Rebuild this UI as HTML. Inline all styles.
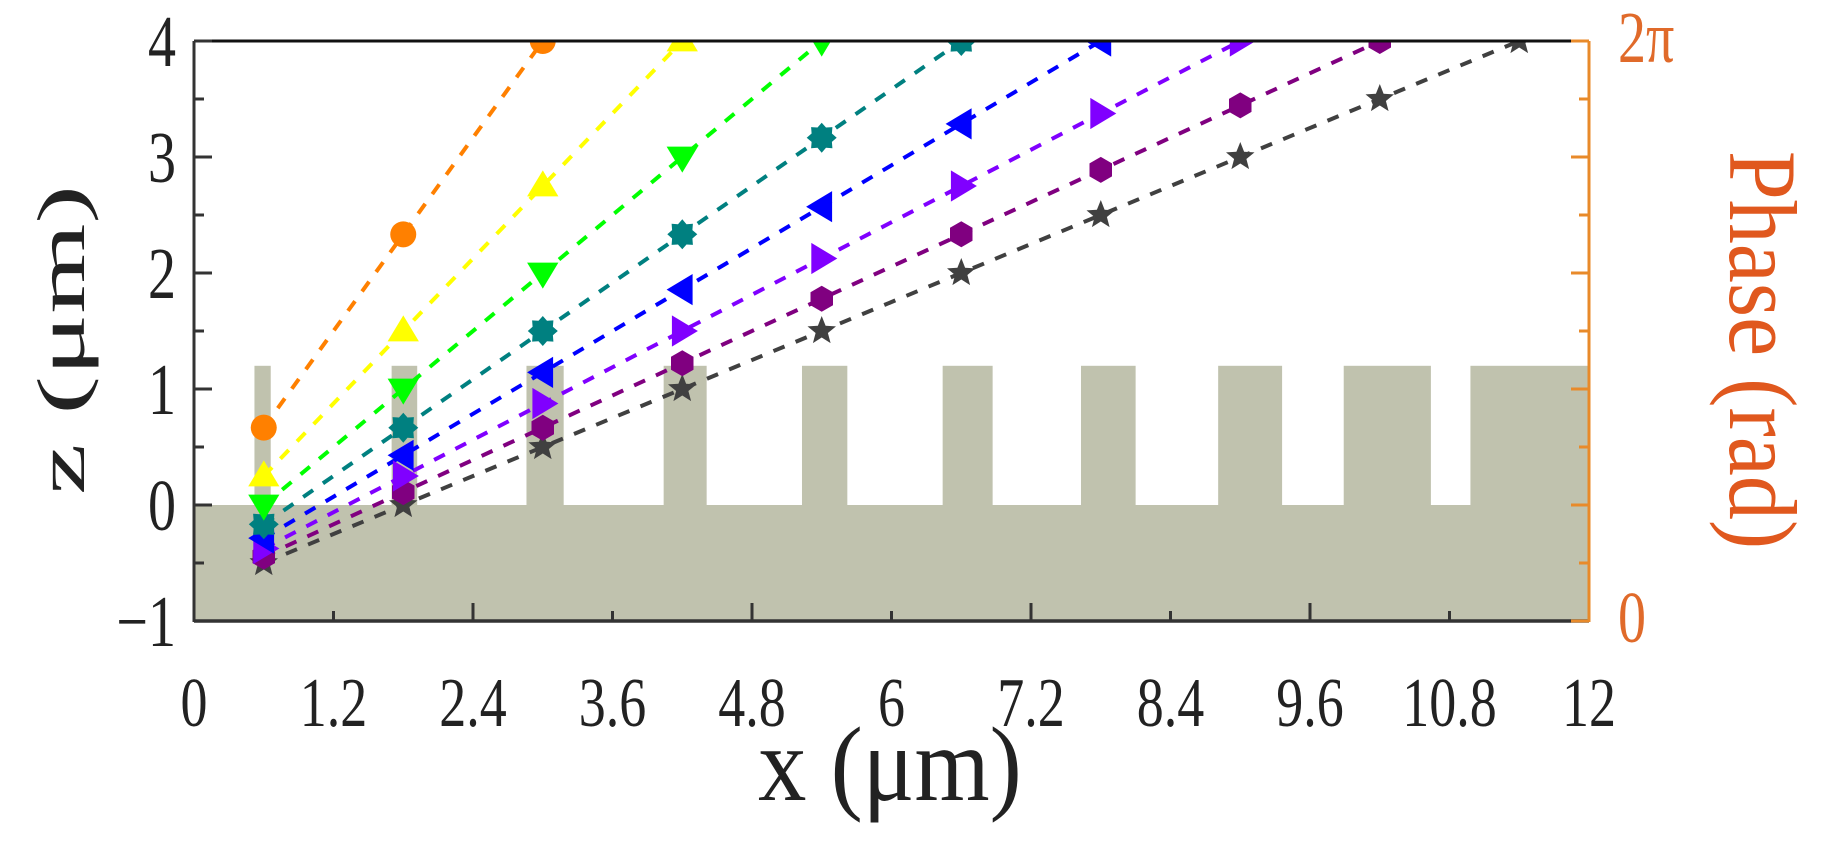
<!DOCTYPE html>
<html><head><meta charset="utf-8">
<style>
html,body{margin:0;padding:0;background:#fff;}
svg{display:block;}
text{font-family:"Liberation Serif","DejaVu Serif",serif;}
</style></head>
<body>
<svg id="s" width="1836" height="865" viewBox="0 0 1836 865" xmlns="http://www.w3.org/2000/svg">
<defs><clipPath id="c"><rect x="194" y="41" width="1395" height="580"/></clipPath></defs>
<g id="struct" clip-path="url(#c)"></g>
<g id="ser" clip-path="url(#c)"></g>
<g id="ax"></g>
<g id="yl" font-size="56" fill="#222" text-anchor="end"></g>
<g id="xl" font-size="54" fill="#222" text-anchor="middle"></g>
<text transform="translate(890,800) scale(1.05,1.15)" font-size="92" fill="#222" text-anchor="middle">x (μm)</text>
<text transform="translate(84,340) rotate(-90) scale(1.45,0.85)" font-size="80" fill="#222" text-anchor="middle">z (μm)</text>
<text transform="translate(1618,62) scale(1,1.3)" font-size="56" fill="#e06a2a">2π</text>
<text transform="translate(1618,642) scale(1,1.3)" font-size="56" fill="#e06a2a">0</text>
<text transform="translate(1730,350) rotate(90) scale(1,1.1)" font-size="88" fill="#e0581e" text-anchor="middle">Phase (rad)</text>
</svg>
<script>
var NS="http://www.w3.org/2000/svg";
function X(x){return 194+116.25*x;}
function Y(z){return 505-116*z;}
function el(p,t,a){var e=document.createElementNS(NS,t);for(var k in a)e.setAttribute(k,a[k]);p.appendChild(e);return e;}
var st=document.getElementById('struct');
var G="#c0c2ae";
el(st,'rect',{x:X(0),y:Y(0),width:X(12)-X(0),height:Y(-1)-Y(0),fill:G});
var pil=[[0.52,0.66],[1.70,1.92],[2.86,3.18],[4.04,4.41],[5.23,5.62],[6.44,6.87],[7.63,8.10],[8.81,9.36],[9.89,10.64],[10.98,12.1]];
pil.forEach(function(p){el(st,'rect',{x:X(p[0]),y:Y(1.2),width:X(p[1])-X(p[0]),height:Y(0)-Y(1.2)+1,fill:G});});
var ser=document.getElementById('ser');
var cols=["#ff8000","#ffff00","#00ff00","#008080","#0000ff","#8000ff","#800080","#404040"];
var mk=["o","^","v","x","<",">","h","*"];
function poly(p,pts,c){el(p,'polygon',{points:pts.map(function(q){return q[0].toFixed(1)+","+q[1].toFixed(1)}).join(" "),fill:c});}
function marker(g,cx,cy,t,c){
 var r=13;
 if(t=="o")el(g,'circle',{cx:cx,cy:cy,r:r,fill:c});
 else if(t=="^")poly(g,[[cx,cy-r*1.2],[cx+r*1.2,cy+r*0.8],[cx-r*1.2,cy+r*0.8]],c);
 else if(t=="v")poly(g,[[cx,cy+r*1.2],[cx+r*1.2,cy-r*0.8],[cx-r*1.2,cy-r*0.8]],c);
 else if(t=="<")poly(g,[[cx-r*1.2,cy],[cx+r*0.8,cy-r*1.2],[cx+r*0.8,cy+r*1.2]],c);
 else if(t==">")poly(g,[[cx+r*1.2,cy],[cx-r*0.8,cy-r*1.2],[cx-r*0.8,cy+r*1.2]],c);
 else if(t=="h"){var p=[];for(var i=0;i<6;i++){var a=Math.PI/6+i*Math.PI/3;p.push([cx+r*Math.cos(a),cy+r*Math.sin(a)]);}poly(g,p,c);}
 else if(t=="x"){var p=[];for(var i=0;i<16;i++){var a=i*Math.PI/8,rr=(i%2?11:15);p.push([cx+rr*Math.cos(a),cy+rr*Math.sin(a)]);}poly(g,p,c);}
 else if(t=="*"){var p=[];for(var i=0;i<10;i++){var a=-Math.PI/2+i*Math.PI/5,rr=(i%2?6.5:15);p.push([cx+rr*Math.cos(a),cy+rr*Math.sin(a)]);}poly(g,p,c);}
}
for(var n=7;n>=0;n--){
 var k=n+2,s=5/(k+1),z0=4-k*s;
 el(ser,'line',{x1:X(0.6),y1:Y(z0),x2:X(0.6+1.2*k),y2:Y(4),stroke:cols[n],"stroke-width":4,"stroke-dasharray":"12 12"});
}
for(var n=7;n>=0;n--){
 var k=n+2,s=5/(k+1),z0=4-k*s;
 for(var i=0;i<=k;i++)marker(ser,X(0.6+1.2*i),Y(z0+s*i),mk[n],cols[n]);
}
var ax=document.getElementById('ax');
el(ax,'line',{x1:194,y1:41,x2:1589,y2:41,stroke:"#111","stroke-width":3});
el(ax,'line',{x1:194,y1:41,x2:194,y2:622,stroke:"#333","stroke-width":3});
el(ax,'line',{x1:194,y1:621,x2:1589,y2:621,stroke:"#333","stroke-width":3.5});
el(ax,'line',{x1:1589,y1:41,x2:1589,y2:622,stroke:"#e88a2a","stroke-width":3});
for(var i=0;i<=10;i++){var z=-1+i*0.5;var L=(i%2==0)?18:10;el(ax,'line',{x1:194,y1:Y(z),x2:194+L,y2:Y(z),stroke:"#333","stroke-width":3});}
for(var i=1;i<10;i++){var L=(i%2==0)?18:10;el(ax,'line',{x1:X(1.2*i),y1:621,x2:X(1.2*i),y2:621-L,stroke:"#333","stroke-width":3});}
for(var i=0;i<=10;i++){var y=41+58*i;var L=(i%2==0)?18:10;el(ax,'line',{x1:1589,y1:y,x2:1589-L,y2:y,stroke:"#e88a2a","stroke-width":3});}
var xl=document.getElementById('xl');
var labs=["0","1.2","2.4","3.6","4.8","6","7.2","8.4","9.6","10.8","12"];
labs.forEach(function(l,i){var t=el(xl,'text',{transform:"translate("+X(1.2*i)+",726) scale(1,1.3)"});t.textContent=l;});
var yl=document.getElementById('yl');
["4","3","2","1","0","−1"].forEach(function(l,i){var t=el(yl,'text',{transform:"translate(176,"+(Y(4-i)+25)+") scale(1,1.3)"});t.textContent=l;});
</script>
</body></html>
